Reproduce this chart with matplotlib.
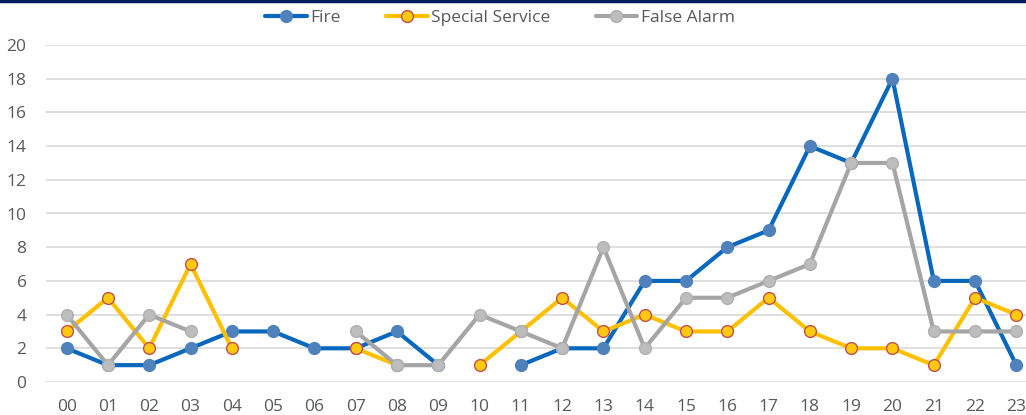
import numpy as np
import matplotlib
matplotlib.use("Agg")
import matplotlib.pyplot as plt
from matplotlib.lines import Line2D

nan = np.nan

hours = ["00", "01", "02", "03", "04", "05", "06", "07", "08", "09", "10", "11",
         "12", "13", "14", "15", "16", "17", "18", "19", "20", "21", "22", "23"]
fire = [2, 1, 1, 2, 3, 3, 2, 2, 3, 1, nan, 1, 2, 2, 6, 6, 8, 9, 14, 13, 18, 6, 6, 1]
special_service = [3, 5, 2, 7, 2, nan, nan, 2, 1, nan, 1, 3, 5, 3, 4, 3, 3, 5, 3, 2, 2, 1, 5, 4]
false_alarm = [4, 1, 4, 3, nan, nan, nan, 3, 1, 1, 4, 3, 2, 8, 2, 5, 5, 6, 7, 13, 13, 3, 3, 3]

plt.rcParams['font.family'] = ['Open Sans', 'DejaVu Sans']

fig = plt.figure(figsize=(10.26, 4.15), dpi=100)
ax = fig.add_axes([46 / 1026, 33 / 415, 991 / 1026, 337 / 415])

x = np.arange(len(hours))
estilos = [
    ("Fire", fire, "#0868BE", "#4F81BD", "#4F81BD"),
    ("Special Service", special_service, "#FFC000", "#FFC90E", "#C0504D"),
    ("False Alarm", false_alarm, "#A5A5A5", "#BDBDBD", "#B0B0B0"),
]
for nombre, valores, color, cara, borde in estilos:
    ax.plot(x, valores, color=color, lw=3.0, marker="o", ms=8.5,
            markerfacecolor=cara, markeredgecolor=borde, markeredgewidth=1.0,
            label=nombre, solid_capstyle="round", zorder=3)

ax.set_xlim(-0.5, len(hours) - 0.5)
ax.set_ylim(0, 20)
ax.set_yticks(range(0, 21, 2))
ax.set_xticks(x)
ax.set_xticklabels(hours)
ax.grid(axis="y", color="#D9D9D9", lw=1.2, zorder=0)
for s in ax.spines.values():
    s.set_visible(False)
ax.tick_params(length=0, labelsize=12.5, colors="#595959")
ax.tick_params(axis="y", pad=14)
ax.tick_params(axis="x", pad=12)

handles, labels = ax.get_legend_handles_labels()
fig.legend(handles, labels, loc="center", bbox_to_anchor=(500 / 1026, 1 - 18 / 415),
           ncol=3, frameon=False, fontsize=12.5, labelcolor="#595959",
           handlelength=2.4, handletextpad=0.2, columnspacing=2.6)

fig.add_artist(Line2D([0, 1], [1 - 1.5 / 415, 1 - 1.5 / 415], color="#002060",
                      lw=2.5, transform=fig.transFigure))

fig.savefig("out.png", dpi=100)
